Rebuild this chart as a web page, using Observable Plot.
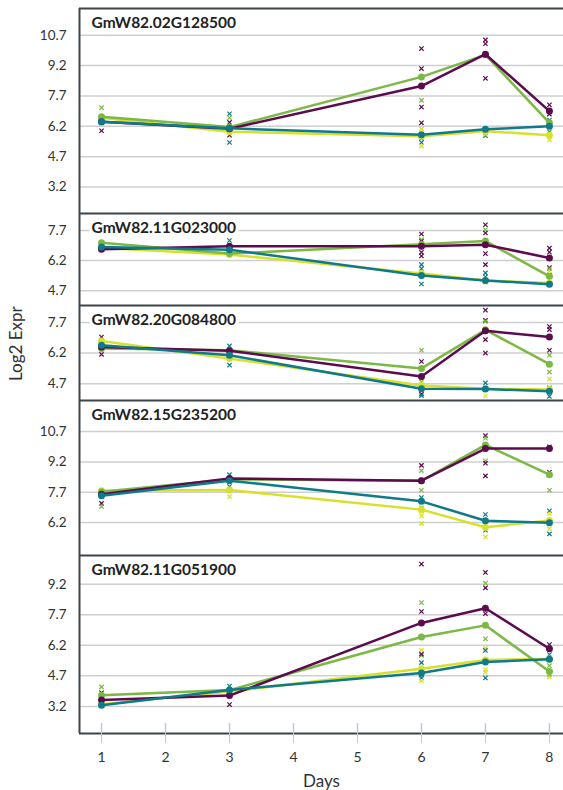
<!DOCTYPE html>
<html><head><meta charset="utf-8">
<script src="https://cdn.jsdelivr.net/npm/d3@7"></script>
<script src="https://cdn.jsdelivr.net/npm/@observablehq/plot@0.6"></script>
<style>
html,body{margin:0;padding:0;background:#fff;overflow:hidden;}
#chart{position:relative;width:563px;height:790px;}
#chart svg{display:block;overflow:visible;}
</style></head><body><div id="chart"></div>
<script>
// ---- data ----
const days = [1, 3, 6, 7, 8];
const xTickDays = [1, 2, 3, 4, 5, 6, 7, 8];
const genes = ["GmW82.02G128500", "GmW82.11G023000", "GmW82.20G084800", "GmW82.15G235200", "GmW82.11G051900"];
const seriesNames = ["Series 1", "Series 2", "Series 3", "Series 4"];
const seriesColors = ["#5c0b4f", "#7bb844", "#d7e02b", "#0f7a89"];

// mean log2 expression per gene (rows) and day (columns)
const series1 = [[6.42, 6.08, 8.19, 9.76, 6.95], [6.77, 6.91, 6.91, 6.99, 6.33], [6.50, 6.32, 5.05, 7.29, 6.99], [7.60, 8.38, 8.27, 9.86, 9.86], [3.52, 3.73, 7.30, 8.02, 6.03]];
const series2 = [[6.67, 6.16, 8.64, 9.73, 6.37], [7.09, 6.55, 7.01, 7.17, 5.42], [6.42, 6.34, 5.45, 7.34, 5.66], [7.73, 8.34, 8.27, 10.04, 8.57], [3.75, 4.00, 6.61, 7.18, 4.91]];
const series3 = [[6.62, 5.93, 5.71, 5.96, 5.76], [6.83, 6.50, 5.56, 5.21, 5.09], [6.79, 5.93, 4.61, 4.45, 4.42], [7.78, 7.81, 6.84, 5.97, 6.30], [3.31, 3.93, 5.05, 5.48, 5.53]];
const series4 = [[6.42, 6.10, 5.78, 6.05, 6.20], [6.88, 6.74, 5.46, 5.21, 5.03], [6.58, 6.09, 4.45, 4.44, 4.33], [7.53, 8.27, 7.25, 6.29, 6.19], [3.26, 4.01, 4.84, 5.38, 5.51]];

// replicate values: [day, series index, value]
const reps1 = [[1,1,7.12],[1,0,5.98],[1,3,6.37],[1,1,6.55],[3,3,6.82],[3,1,6.62],[3,0,6.39],[3,0,5.76],[3,3,5.40],[3,2,5.90],[6,0,10.04],[6,0,9.05],[6,1,7.48],[6,0,7.15],[6,0,6.37],[6,2,6.06],[6,3,5.40],[6,2,5.22],[6,3,5.60],[7,0,10.47],[7,0,10.28],[7,0,8.57],[7,3,5.73],[7,2,5.80],[7,1,9.70],[8,0,7.26],[8,0,6.91],[8,0,6.80],[8,3,6.51],[8,3,5.93],[8,2,5.53],[8,1,6.40],[8,2,6.10]];
const reps2 = [[3,3,7.20],[6,0,7.52],[6,1,7.24],[6,0,7.16],[6,0,6.61],[6,0,6.43],[6,3,6.00],[6,3,5.80],[6,3,5.04],[6,2,5.65],[7,0,7.98],[7,1,7.73],[7,0,7.57],[7,0,6.55],[7,0,6.00],[7,3,5.59],[7,3,5.40],[7,2,5.12],[8,0,6.82],[8,0,6.62],[8,0,5.85],[8,2,5.68],[8,1,5.80],[8,3,5.47]];
const reps3 = [[1,0,6.99],[1,0,6.14],[3,3,6.55],[3,3,5.61],[6,1,6.34],[6,0,5.79],[6,1,4.80],[6,0,4.20],[6,3,4.12],[7,0,8.30],[7,0,7.81],[7,1,7.75],[7,0,6.86],[7,0,6.20],[7,3,4.74],[7,2,4.10],[8,0,7.50],[8,0,7.35],[8,0,6.34],[8,1,6.10],[8,1,5.27],[8,2,4.94],[8,3,4.50],[8,3,4.08]];
const reps4 = [[1,1,7.80],[1,0,7.15],[1,1,7.00],[3,3,8.57],[3,3,7.98],[3,3,7.83],[3,2,7.48],[6,0,9.03],[6,1,8.77],[6,1,7.80],[6,3,7.44],[6,1,6.93],[6,2,6.54],[6,2,6.16],[7,0,10.50],[7,1,10.37],[7,1,9.26],[7,0,9.14],[7,0,8.51],[7,3,6.60],[7,3,5.82],[7,2,5.49],[8,0,9.95],[8,0,8.69],[8,1,7.80],[8,3,6.78],[8,2,6.65],[8,2,5.90],[8,3,5.64]];
const reps5 = [[1,1,4.16],[1,0,3.87],[3,3,4.20],[3,0,3.29],[6,0,10.19],[6,1,8.30],[6,0,7.86],[6,1,7.30],[6,2,5.97],[6,1,5.70],[6,0,5.77],[6,3,5.35],[6,3,4.73],[6,3,4.60],[6,2,4.45],[7,0,9.78],[7,1,9.25],[7,0,9.02],[7,0,7.75],[7,1,6.52],[7,2,6.06],[7,3,5.95],[7,2,5.00],[7,2,4.87],[7,3,4.60],[8,0,6.24],[8,3,5.75],[8,1,5.20],[8,2,4.64],[8,1,4.77]];

// y tick labels per panel
const yTicks = [[3.2, 4.7, 6.2, 7.7, 9.2, 10.7], [4.7, 6.2, 7.7], [4.7, 6.2, 7.7], [6.2, 7.7, 9.2, 10.7], [3.2, 4.7, 6.2, 7.7, 9.2]];
const yDomains = [[1.89, 12.02], [3.97, 8.54], [3.88, 8.53], [4.57, 12.24], [1.87, 10.61]];
const xDomain = [0.656, 8.22];

// ---- layout ----
const panelHeights = [205, 92, 95, 155, 178];
const allSeries = [series1, series2, series3, series4];
const allReps = [reps1, reps2, reps3, reps4, reps5];
const drawOrder = [2, 1, 0, 3];
const frameColor = "#3e454a";
const font = "Lato, 'Open Sans', sans-serif";

const root = document.getElementById("chart");

genes.forEach((gene, p) => {
  const mt = p === 0 ? 8 : 0;
  const mb = p === 4 ? 57 : 0;
  const h = panelHeights[p] + mt + mb;
  const reps = allReps[p].map(([day, s, value]) => ({day, series: seriesNames[s], value}));
  const marks = [
    Plot.gridY(yTicks[p], {stroke: "#cfcfcf", strokeOpacity: 1, strokeWidth: 1.5}),
    Plot.axisY(yTicks[p], {tickSize: 0, tickPadding: 13, tickFormat: d => d.toFixed(1), fontSize: 13.5, fill: "#333", label: null}),
    Plot.dot(reps, {x: "day", y: "value", stroke: "series", symbol: "times", r: 2.1, strokeWidth: 1.2})
  ];
  drawOrder.forEach(s => {
    const rows = days.map((day, i) => ({day, series: seriesNames[s], value: allSeries[s][p][i]}));
    marks.push(Plot.line(rows, {x: "day", y: "value", stroke: "series", strokeWidth: 2.5}));
    marks.push(Plot.dot(rows, {x: "day", y: "value", fill: "series", r: 3.5}));
  });
  marks.push(Plot.text([gene], {text: d => d, frameAnchor: "top-left", dx: 12, dy: 15, textAnchor: "start", lineAnchor: "middle",
    fontWeight: "bold", fontSize: 15.5, fill: "#222", stroke: "white", strokeWidth: 6, style: "letter-spacing:0.55px"}));
  marks.push(Plot.ruleX([xDomain[0]], {stroke: frameColor, strokeWidth: 2}));
  marks.push(Plot.ruleY([yDomains[p][1]], {stroke: frameColor, strokeWidth: 2}));
  if (p === 2) {
    marks.push(Plot.text(["Log2 Expr"], {text: d => d, frameAnchor: "left", rotate: -90, dx: -63, dy: 28, lineAnchor: "middle", fontSize: 17, fill: "#333"}));
  }
  if (p === 4) {
    marks.push(Plot.ruleY([yDomains[p][0]], {stroke: frameColor, strokeWidth: 2}));
    marks.push(Plot.tickX(xTickDays, {x: d => d, stroke: "#c8c8c8", strokeWidth: 1.5, insetTop: panelHeights[p] - 10}));
    marks.push(Plot.axisX(xTickDays, {tickSize: 10, tickPadding: 9, stroke: "#c8c8c8", fill: "#333", fontSize: 14, label: null, tickFormat: d => String(d)}));
    marks.push(Plot.text(["Days"], {text: d => d, frameAnchor: "bottom", dy: 48, lineAnchor: "middle", fontSize: 17, fill: "#333"}));
  }
  const svg = Plot.plot({
    width: 563, height: h,
    marginLeft: 79, marginRight: 0, marginTop: mt, marginBottom: mb,
    style: {fontFamily: font, background: "none", overflow: "visible"},
    x: {domain: xDomain, axis: null},
    y: {domain: yDomains[p], axis: null},
    color: {domain: seriesNames, range: seriesColors},
    marks
  });
  root.appendChild(svg);
});
</script></body></html>
